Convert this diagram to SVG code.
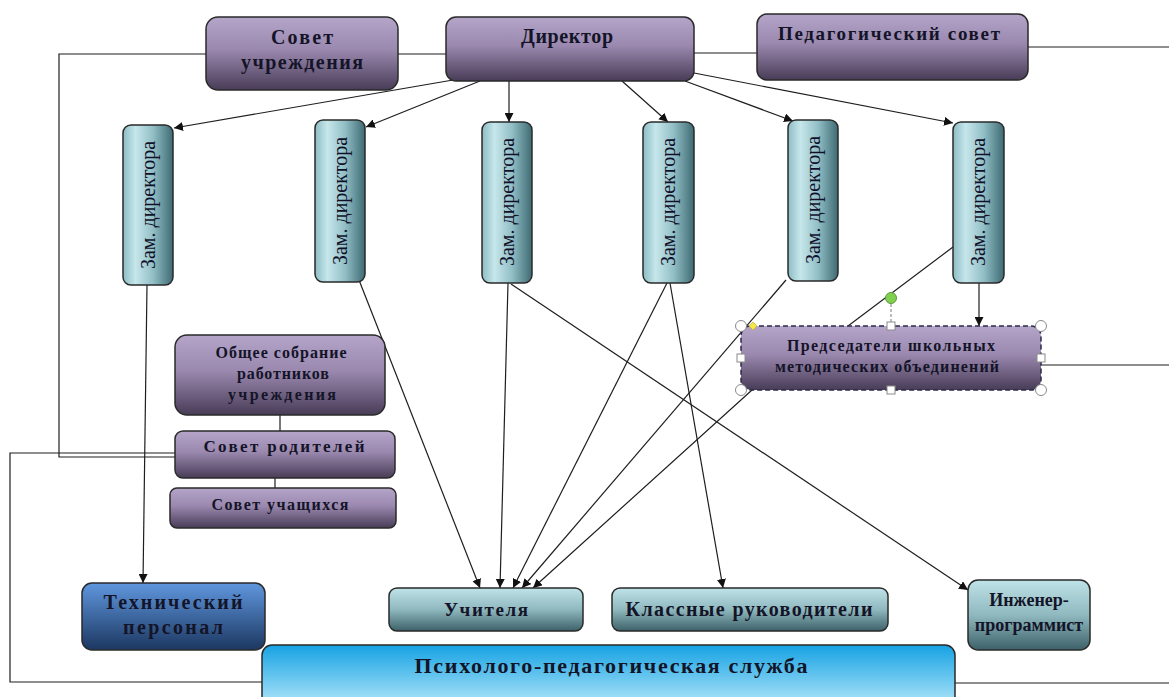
<svg xmlns="http://www.w3.org/2000/svg" width="1169" height="697" viewBox="0 0 1169 697">
<defs>
<linearGradient id="gPurple" x1="0" y1="0" x2="0" y2="1">
<stop offset="0" stop-color="#b5a5c9"/><stop offset="0.45" stop-color="#9a88ae"/><stop offset="1" stop-color="#483c57"/>
</linearGradient>
<linearGradient id="gZam" x1="0" y1="0" x2="1" y2="0">
<stop offset="0" stop-color="#8dbcc4"/><stop offset="0.25" stop-color="#c6e7eb"/><stop offset="0.6" stop-color="#92bec6"/><stop offset="1" stop-color="#3e6a73"/>
</linearGradient>
<linearGradient id="gTeal" x1="0" y1="0" x2="0" y2="1">
<stop offset="0" stop-color="#bfe3e8"/><stop offset="0.5" stop-color="#8fb8bf"/><stop offset="1" stop-color="#3d6168"/>
</linearGradient>
<linearGradient id="gBlue" x1="0" y1="0" x2="0" y2="1">
<stop offset="0" stop-color="#5f97de"/><stop offset="1" stop-color="#1c3761"/>
</linearGradient>
<linearGradient id="gSky" x1="0" y1="0" x2="0" y2="1">
<stop offset="0" stop-color="#16a2e3"/><stop offset="1" stop-color="#b3e7fa"/>
</linearGradient>
<marker id="arr" viewBox="0 0 10 10" refX="10" refY="5" markerWidth="9" markerHeight="9" markerUnits="userSpaceOnUse" orient="auto">
<path d="M0,0 L10,5 L0,10 z" fill="#111"/>
</marker>
<style>
.box{stroke:#2a2a2a;stroke-width:1.5}
.p{fill:url(#gPurple)}
.z{fill:url(#gZam)}
.t{fill:url(#gTeal)}
.lbl{font-family:"Liberation Serif","Times New Roman",serif;font-weight:bold;fill:#141428;text-anchor:middle}
.zl{font-family:"Liberation Serif","Times New Roman",serif;font-size:20px;fill:#10102a;text-anchor:middle}
.ln{stroke:#1e1e1e;stroke-width:1.2;fill:none}
.ar{stroke:#1e1e1e;stroke-width:1.2;fill:none;marker-end:url(#arr)}
.hc{fill:#fff;stroke:#8a8a8a;stroke-width:1}
</style>
</defs>
<rect width="1169" height="697" fill="#fff"/>
<g id="connectors">
<polyline class="ln" points="206,54 59,54 59,457 175,457"/>
<polyline class="ln" points="175,453 10,453 10,682 262,682"/>
<line class="ln" x1="398" y1="54" x2="446" y2="54"/>
<line class="ln" x1="694" y1="53" x2="757" y2="53"/>
<line class="ln" x1="1028" y1="47" x2="1169" y2="47"/>
<line class="ln" x1="1041" y1="365" x2="1169" y2="365"/>
<line class="ln" x1="955" y1="683" x2="1169" y2="683"/>
<line class="ln" x1="280" y1="415" x2="280" y2="432"/>
<line class="ln" x1="275" y1="478" x2="275" y2="488"/>
<line class="ar" x1="453" y1="80" x2="174" y2="128"/>
<line class="ar" x1="480" y1="81" x2="366" y2="127"/>
<line class="ar" x1="509" y1="81" x2="509" y2="122"/>
<line class="ar" x1="622" y1="81" x2="668" y2="122"/>
<line class="ar" x1="685" y1="81" x2="793" y2="121"/>
<line class="ar" x1="694" y1="73" x2="953" y2="123"/>
<line class="ar" x1="147" y1="285" x2="143" y2="583"/>
<line class="ar" x1="359" y1="280" x2="480" y2="588"/>
<line class="ar" x1="508" y1="283" x2="500" y2="588"/>
<line class="ar" x1="667" y1="283" x2="513" y2="588"/>
<line class="ar" x1="786" y1="280" x2="522" y2="588"/>
<polyline class="ar" points="953,247 848,326 752,390 533,588"/>
<line class="ar" x1="670" y1="283" x2="723" y2="588"/>
<line class="ar" x1="511" y1="284" x2="968" y2="590"/>
<line class="ar" x1="979" y1="283" x2="979" y2="326"/>
</g>
<g id="sovet-uchrezhdeniya">
<rect class="box p" x="206" y="17" width="192" height="73" rx="12"/>
<text class="lbl" font-size="20" x="302" y="44" textLength="62" lengthAdjust="spacing">Совет</text>
<text class="lbl" font-size="20" x="302" y="69" textLength="122" lengthAdjust="spacing">учреждения</text>
</g>
<g id="direktor">
<rect class="box p" x="446" y="17" width="248" height="64" rx="10"/>
<text class="lbl" font-size="20" x="567" y="43" textLength="92" lengthAdjust="spacing">Директор</text>
</g>
<g id="ped-sovet">
<rect class="box p" x="757" y="14" width="271" height="66" rx="10"/>
<text class="lbl" font-size="19" x="889" y="40" textLength="222" lengthAdjust="spacing">Педагогический совет</text>
</g>
<g id="zam1">
<rect class="box z" x="123" y="125" width="50" height="160" rx="8"/>
<text class="zl" transform="translate(148,205) rotate(-90)" y="7">Зам. директора</text>
</g>
<g id="zam2">
<rect class="box z" x="315" y="120" width="50" height="162" rx="8"/>
<text class="zl" transform="translate(340,201) rotate(-90)" y="7">Зам. директора</text>
</g>
<g id="zam3">
<rect class="box z" x="482" y="122" width="50" height="161" rx="8"/>
<text class="zl" transform="translate(507,202) rotate(-90)" y="7">Зам. директора</text>
</g>
<g id="zam4">
<rect class="box z" x="643" y="122" width="51" height="161" rx="8"/>
<text class="zl" transform="translate(668,202) rotate(-90)" y="7">Зам. директора</text>
</g>
<g id="zam5">
<rect class="box z" x="788" y="120" width="50" height="161" rx="8"/>
<text class="zl" transform="translate(813,200) rotate(-90)" y="7">Зам. директора</text>
</g>
<g id="zam6">
<rect class="box z" x="953" y="122" width="51" height="161" rx="8"/>
<text class="zl" transform="translate(978,202) rotate(-90)" y="7">Зам. директора</text>
</g>
<g id="predsedateli">
<rect class="p" x="741" y="326" width="300" height="64" rx="10" stroke="#2a2a4a" stroke-width="1.5" stroke-dasharray="5,3"/>
<text class="lbl" font-size="16" x="891" y="351" textLength="208" lengthAdjust="spacing">Председатели школьных</text>
<text class="lbl" font-size="16" x="887" y="372" textLength="224" lengthAdjust="spacing">методических объединений</text>
<line x1="891" y1="304" x2="891" y2="322" stroke="#7a7a7a" stroke-width="1" stroke-dasharray="3,2"/>
<circle cx="891" cy="298" r="5.5" fill="#82d050" stroke="#5a9a3a" stroke-width="1"/>
<circle class="hc" cx="741" cy="326" r="5.5"/>
<circle class="hc" cx="1041" cy="326" r="5.5"/>
<circle class="hc" cx="741" cy="390" r="5.5"/>
<circle class="hc" cx="1041" cy="390" r="5.5"/>
<rect class="hc" x="887" y="322" width="8" height="8"/>
<rect class="hc" x="887" y="386" width="8" height="8"/>
<rect class="hc" x="737" y="354" width="8" height="8"/>
<rect class="hc" x="1037" y="354" width="8" height="8"/>
<path d="M753,322 L757,326 L753,330 L749,326 z" fill="#f5e64a" stroke="#c8b830" stroke-width="0.8"/>
</g>
<g id="obshchee-sobranie">
<rect class="box p" x="175" y="335" width="210" height="80" rx="12"/>
<text class="lbl" font-size="16" x="281" y="358" textLength="131" lengthAdjust="spacing">Общее собрание</text>
<text class="lbl" font-size="16" x="283" y="379" textLength="92" lengthAdjust="spacing">работников</text>
<text class="lbl" font-size="16" x="282" y="400" textLength="108" lengthAdjust="spacing">учреждения</text>
</g>
<g id="sovet-roditelei">
<rect class="box p" x="175" y="431" width="220" height="47" rx="8"/>
<text class="lbl" font-size="17" x="284" y="452" textLength="161" lengthAdjust="spacing">Совет родителей</text>
</g>
<g id="sovet-uchashchikhsya">
<rect class="box p" x="170" y="488" width="226" height="40" rx="7"/>
<text class="lbl" font-size="16" x="280" y="510" textLength="137" lengthAdjust="spacing">Совет учащихся</text>
</g>
<g id="tekhnicheskii-personal">
<rect class="box" fill="url(#gBlue)" x="82" y="583" width="183" height="67" rx="10"/>
<text class="lbl" font-size="20" x="173" y="609" textLength="139" lengthAdjust="spacing">Технический</text>
<text class="lbl" font-size="20" x="173" y="634" textLength="100" lengthAdjust="spacing">персонал</text>
</g>
<g id="uchitelya">
<rect class="box t" x="389" y="588" width="194" height="43" rx="8"/>
<text class="lbl" font-size="19" x="486" y="616" textLength="84" lengthAdjust="spacing">Учителя</text>
</g>
<g id="klassnye">
<rect class="box t" x="612" y="588" width="276" height="43" rx="8"/>
<text class="lbl" font-size="20" x="749" y="616" textLength="247" lengthAdjust="spacing">Классные руководители</text>
</g>
<g id="inzhener">
<rect class="box t" x="968" y="580" width="122" height="70" rx="10"/>
<text class="lbl" font-size="18" x="1029" y="606">Инженер-</text>
<text class="lbl" font-size="18" x="1029" y="631">программист</text>
</g>
<g id="psikhologo-ped">
<rect class="box" fill="url(#gSky)" x="262" y="645" width="693" height="62" rx="10"/>
<text class="lbl" font-size="22" x="611" y="673" textLength="393" lengthAdjust="spacing">Психолого-педагогическая служба</text>
</g>
</svg>
